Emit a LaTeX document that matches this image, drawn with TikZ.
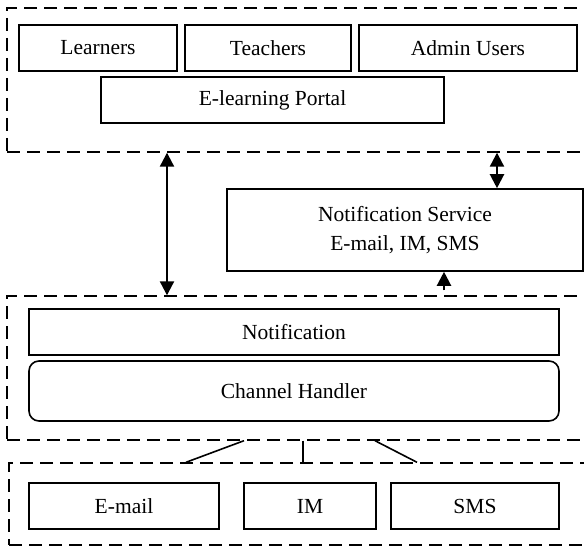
\documentclass[tikz,border=0pt]{standalone}
\usepackage{fontspec}
\setmainfont{Liberation Serif}
\usetikzlibrary{arrows.meta, positioning}

\begin{document}
\begin{tikzpicture}[x=1pt, y=-1pt,
    layer/.style={draw, dashed, dash pattern=on 13pt off 7pt, line width=1.4pt, inner sep=0pt},
    block/.style={draw, line width=1.6pt, inner sep=0pt, minimum height=46pt, align=center,
        font=\fontsize{21.5}{29}\selectfont},
    link/.style={line width=2.2pt, -{Triangle[length=14pt, width=14pt]}},
    duplex/.style={line width=2.2pt, {Triangle[length=14pt, width=14pt]}-{Triangle[length=14pt, width=14pt]}},
    wire/.style={line width=1.6pt}]
    \useasboundingbox (0,0) rectangle (584,548);
    \clip (0,0) rectangle (584,548);

    % Layers
    \node[layer, minimum width=593pt, minimum height=144pt] (portallayer) at (303.5,80) {};
    \node[layer, minimum width=593pt, minimum height=144pt] (notiflayer) at (303.5,368) {};
    \node[layer, minimum width=591pt, minimum height=82pt] (channellayer) at (304.5,504) {};

    % Portal layer
    \node[block, minimum width=158pt] (learners) at (98,48) {Learners};
    \node[block, minimum width=166pt] (teachers) at (268,48) {Teachers};
    \node[block, minimum width=218pt] (admins) at (468,48) {Admin Users};
    \node[block, minimum width=343pt] (portal) at (272.5,100) {E-learning Portal};

    % Notification service
    \node[block, minimum width=356pt, minimum height=82pt] (service) at (405,230)
        {Notification Service\\E-mail, IM, SMS};

    % Notification layer
    \node[block, minimum width=530pt] (notification) at (294,332) {Notification};
    \node[block, minimum width=530pt, minimum height=60pt, rounded corners=10pt] (handler) at (294,391) {Channel Handler};

    % Channel layer
    \node[block, minimum width=190pt] (email) at (124,506) {E-mail};
    \node[block, minimum width=132pt] (im) at (310,506) {IM};
    \node[block, minimum width=168pt] (sms) at (475,506) {SMS};

    % Arrows
    \coordinate (leftx) at (167,0);
    \coordinate (rightx) at (497,0);
    \coordinate (upx) at (444,0);
    \draw[duplex] (portallayer.south -| leftx) -- (notiflayer.north -| leftx);
    \draw[duplex] (portallayer.south -| rightx) -- (service.north -| rightx);
    \draw[link, shorten <=5pt] (notiflayer.north -| upx) -- (service.south -| upx);

    % Channel lines
    \coordinate (fromemail) at (244,0);
    \coordinate (toemail) at (186,0);
    \coordinate (midim) at (303,0);
    \coordinate (fromsms) at (375,0);
    \coordinate (tosms) at (417,0);
    \draw[wire] (notiflayer.south -| fromemail) -- (channellayer.north -| toemail);
    \draw[wire] (notiflayer.south -| midim) -- (channellayer.north -| midim);
    \draw[wire] (notiflayer.south -| fromsms) -- (channellayer.north -| tosms);
\end{tikzpicture}
\end{document}
